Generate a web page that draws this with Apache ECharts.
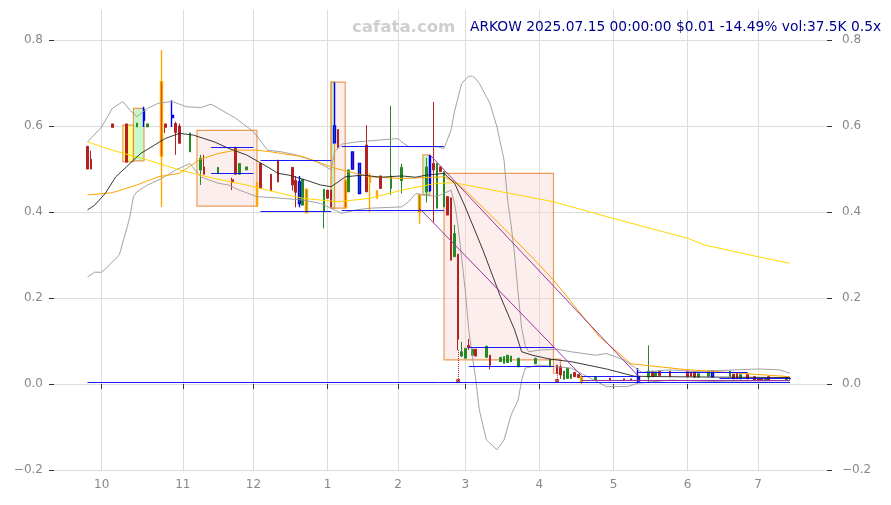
<!DOCTYPE html>
<html><head><meta charset="utf-8">
<script src="https://cdn.jsdelivr.net/npm/echarts@6/dist/echarts.min.js"></script>
<style>html,body{margin:0;padding:0;background:#fff}#c{width:891px;height:505px}</style>
</head><body><div id="c"></div>
<script>
// ---------- calendar (trading days) ----------
const firstDay = '2024-09-12', lastDay = '2025-07-29';
const holidays = ['2024-11-28','2024-12-25','2025-01-01','2025-01-09','2025-01-20','2025-02-17','2025-04-18','2025-05-26','2025-06-19','2025-07-04'];
const yTicks = [-0.2, 0, 0.2, 0.4, 0.6, 0.8];
const titleText = 'ARKOW 2025.07.15 00:00:00 $0.01 -14.49% vol:37.5K 0.5x';
const watermark = 'cafata.com';

// ---------- candles: [date, open, close, low, high] ----------
const candles = [
['2024-09-25',.553,.500,.500,.553],['2024-09-26',.523,.500,.500,.543],
['2024-10-04',.605,.597,.597,.605],['2024-10-10',.605,.516,.516,.605],
['2024-10-15',.598,.607,.598,.607],['2024-10-17',.637,.614,.598,.645],
['2024-10-18',.598,.605,.598,.605],['2024-10-24',.703,.530,.412,.777],
['2024-10-25',.605,.597,.584,.605],['2024-10-29',.625,.620,.598,.660],
['2024-10-30',.606,.585,.533,.610],['2024-10-31',.600,.560,.560,.606],
['2024-11-05',.540,.584,.540,.584],['2024-11-08',.498,.525,.463,.533],
['2024-11-11',.505,.488,.488,.533],['2024-11-15',.490,.504,.490,.504],
['2024-11-21',.475,.470,.451,.480],['2024-11-22',.550,.488,.488,.552],
['2024-11-25',.488,.513,.488,.513],['2024-11-27',.498,.505,.498,.505],
['2024-12-03',.468,.414,.412,.470],['2024-12-04',.513,.455,.455,.515],
['2024-12-09',.488,.450,.450,.488],['2024-12-11',.521,.470,.470,.521],
['2024-12-17',.504,.463,.450,.504],['2024-12-18',.474,.446,.411,.484],
['2024-12-19',.420,.470,.411,.484],['2024-12-20',.416,.476,.416,.476],
['2024-12-23',.398,.453,.398,.453],['2024-12-31',.401,.453,.362,.453],
['2025-01-02',.451,.432,.432,.451],['2025-01-03',.451,.412,.412,.451],
['2025-01-06',.561,.600,.561,.702],['2025-01-07',.592,.550,.550,.592],
['2025-01-10',.474,.410,.410,.474],['2025-01-13',.447,.498,.447,.498],
['2025-01-14',.540,.500,.500,.540],['2025-01-16',.443,.513,.443,.513],
['2025-01-21',.556,.447,.447,.602],['2025-01-22',.470,.480,.401,.491],
['2025-01-24',.433,.449,.433,.449],['2025-01-27',.484,.455,.455,.484],
['2025-01-30',.455,.484,.440,.647],['2025-02-04',.473,.504,.443,.512],
['2025-02-11',.400,.440,.373,.443],['2025-02-13',.447,.505,.422,.526],
['2025-02-14',.450,.530,.447,.533],['2025-02-18',.513,.498,.377,.656],
['2025-02-19',.409,.513,.409,.513],['2025-02-20',.505,.494,.494,.505],
['2025-02-21',.412,.494,.412,.494],['2025-02-24',.436,.393,.393,.436],
['2025-02-25',.433,.288,.288,.433],['2025-02-26',.296,.350,.296,.370],
['2025-02-27',.302,.104,.079,.302],['2025-02-28',.065,.075,.063,.098],
['2025-03-03',.060,.083,.060,.083],['2025-03-04',.090,.085,.079,.105],
['2025-03-05',.067,.081,.067,.081],['2025-03-06',.081,.065,.065,.081],
['2025-03-11',.062,.088,.062,.088],['2025-03-12',.067,.044,.034,.067],
['2025-03-17',.052,.062,.052,.062],['2025-03-18',.048,.064,.048,.064],
['2025-03-19',.050,.067,.050,.067],['2025-03-20',.052,.065,.052,.065],
['2025-03-24',.040,.060,.040,.060],['2025-03-31',.047,.060,.047,.060],
['2025-04-04',.040,.058,.040,.058],['2025-04-08',.044,.025,.025,.044],
['2025-04-09',.040,.021,.012,.044],['2025-04-10',.011,.030,.011,.030],
['2025-04-11',.013,.037,.013,.037],['2025-04-14',.013,.023,.013,.023],
['2025-04-15',.027,.017,.017,.027],['2025-04-16',.022,.015,.015,.022],
['2025-04-17',.005,.017,.000,.017],['2025-04-24',.010,.017,.010,.017],
['2025-04-30',.014,.007,.007,.014],['2025-05-06',.012,.008,.008,.012],
['2025-05-08',.012,.008,.008,.012],['2025-05-12',.007,.017,.002,.037],
['2025-05-15',.016,.030,.005,.090],['2025-05-16',.030,.017,.017,.030],
['2025-05-19',.018,.028,.018,.028],['2025-05-20',.030,.020,.020,.030],
['2025-05-23',.030,.017,.017,.030],['2025-06-02',.030,.017,.017,.030],
['2025-06-03',.028,.018,.018,.028],['2025-06-04',.028,.016,.016,.028],
['2025-06-05',.016,.024,.016,.024],['2025-06-10',.018,.030,.018,.030],
['2025-06-11',.017,.030,.017,.030],['2025-06-18',.018,.030,.018,.030],
['2025-06-20',.023,.012,.012,.023],['2025-06-23',.026,.012,.012,.026],
['2025-06-24',.012,.022,.012,.022],['2025-06-26',.022,.012,.012,.022],
['2025-06-30',.017,.009,.009,.017],['2025-07-01',.012,.008,.008,.012],
['2025-07-02',.012,.008,.008,.012],['2025-07-03',.008,.012,.008,.012],
['2025-07-07',.017,.009,.009,.017],['2025-07-14',.010,.017,.010,.017],
['2025-07-15',.0137,.0117,.0100,.0140]
];
const blueDates = ['2024-10-17','2024-10-29','2024-12-19','2025-01-06','2025-01-14','2025-01-16','2025-02-14','2025-05-12','2025-06-11'];
const orangeDates = ['2024-10-24','2024-12-03','2024-12-23','2025-01-10','2025-01-22','2025-01-24','2025-02-11','2025-04-17'];

// ---------- indicator lines: [date, value] ----------
const ma20 = [['2024-09-25',.405],['2024-09-27',.416],['2024-10-02',.443],['2024-10-07',.482],['2024-10-10',.505],['2024-10-16',.536],['2024-10-22',.556],['2024-10-25',.571],['2024-10-31',.583],['2024-11-06',.579],['2024-11-14',.563],['2024-11-20',.548],['2024-11-27',.533],['2024-12-06',.505],['2024-12-11',.490],['2024-12-16',.486],['2024-12-23',.474],['2024-12-30',.463],['2025-01-03',.459],['2025-01-07',.470],['2025-01-10',.482],['2025-01-17',.486],['2025-01-27',.481],['2025-02-04',.484],['2025-02-10',.481],['2025-02-13',.486],['2025-02-21',.490],['2025-02-26',.467],['2025-03-03',.412],['2025-03-10',.312],['2025-03-17',.203],['2025-03-21',.126],['2025-03-25',.075],['2025-03-28',.067],['2025-04-04',.058],['2025-04-14',.052],['2025-04-29',.035],['2025-05-09',.018],['2025-05-23',.017],['2025-06-13',.016],['2025-07-15',.015]];
const ma50 = [['2024-09-25',.440],['2024-10-04',.445],['2024-10-15',.463],['2024-10-23',.482],['2024-10-31',.490],['2024-11-08',.523],['2024-11-15',.536],['2024-11-22',.544],['2024-12-03',.544],['2024-12-09',.540],['2024-12-12',.536],['2024-12-20',.529],['2025-01-06',.502],['2025-01-13',.494],['2025-01-22',.482],['2025-02-04',.478],['2025-02-21',.482],['2025-02-26',.470],['2025-03-03',.451],['2025-03-18',.362],['2025-04-01',.277],['2025-04-07',.242],['2025-04-25',.110],['2025-05-08',.047],['2025-05-30',.034],['2025-07-15',.017]];
const ma200 = [['2024-09-25',.563],['2024-10-04',.544],['2024-10-18',.521],['2024-10-31',.498],['2024-11-14',.478],['2024-11-27',.463],['2024-12-12',.443],['2024-12-20',.432],['2025-01-07',.424],['2025-01-22',.432],['2025-02-04',.451],['2025-02-19',.467],['2025-02-26',.468],['2025-04-07',.424],['2025-05-01',.385],['2025-06-02',.339],['2025-06-09',.323],['2025-07-01',.296],['2025-07-15',.281]];
const bbUpper = [['2024-09-25',.563],['2024-10-01',.598],['2024-10-04',.641],['2024-10-09',.657],['2024-10-11',.637],['2024-10-15',.622],['2024-10-18',.641],['2024-10-23',.653],['2024-10-29',.657],['2024-11-04',.645],['2024-11-08',.643],['2024-11-13',.651],['2024-11-18',.637],['2024-11-22',.618],['2024-12-02',.587],['2024-12-06',.544],['2024-12-12',.540],['2024-12-18',.533],['2024-12-27',.517],['2025-01-03',.498],['2025-01-06',.540],['2025-01-08',.558],['2025-01-15',.563],['2025-02-03',.571],['2025-02-04',.563],['2025-02-06',.552],['2025-02-19',.552],['2025-02-21',.548],['2025-02-25',.591],['2025-02-26',.635],['2025-02-28',.699],['2025-03-03',.708],['2025-03-04',.716],['2025-03-05',.716],['2025-03-06',.710],['2025-03-07',.699],['2025-03-12',.653],['2025-03-14',.598],['2025-03-18',.521],['2025-03-19',.428],['2025-03-20',.370],['2025-03-21',.300],['2025-03-24',.210],['2025-03-25',.130],['2025-03-26',.090],['2025-03-27',.075],['2025-04-01',.079],['2025-04-08',.081],['2025-04-14',.075],['2025-04-24',.067],['2025-04-29',.071],['2025-05-06',.056],['2025-05-12',.033],['2025-05-13',.027],['2025-05-23',.033],['2025-06-04',.029],['2025-07-01',.035],['2025-07-10',.033],['2025-07-15',.025]];
const bbLower = [['2024-09-25',.249],['2024-09-27',.260],['2024-10-01',.260],['2024-10-03',.275],['2024-10-04',.284],['2024-10-08',.300],['2024-10-09',.330],['2024-10-10',.358],['2024-10-11',.389],['2024-10-14',.436],['2024-10-15',.447],['2024-10-18',.463],['2024-10-24',.478],['2024-10-30',.498],['2024-11-05',.513],['2024-11-08',.482],['2024-11-15',.467],['2024-11-20',.463],['2024-11-25',.451],['2024-12-03',.436],['2024-12-12',.432],['2024-12-20',.428],['2024-12-30',.420],['2025-01-06',.405],['2025-01-08',.397],['2025-01-15',.405],['2025-01-22',.409],['2025-02-04',.412],['2025-02-06',.424],['2025-02-10',.443],['2025-02-12',.440],['2025-02-19',.436],['2025-02-25',.451],['2025-02-26',.420],['2025-02-27',.366],['2025-03-03',.219],['2025-03-04',.126],['2025-03-06',.009],['2025-03-07',-.060],['2025-03-11',-.130],['2025-03-14',-.153],['2025-03-18',-.130],['2025-03-20',-.072],['2025-03-24',-.037],['2025-03-25',.009],['2025-03-26',.037],['2025-04-01',.044],['2025-04-14',.037],['2025-04-29',-.006],['2025-05-07',-.006],['2025-05-12',.002],['2025-05-23',.009],['2025-06-17',.005],['2025-07-15',.004]];

// ---------- drawings ----------
// boxes: [fromDate, toDate, low, high, kind]
const boxes = [
['2024-10-09','2024-10-14',.517,.602,'yellow'],
['2024-10-14','2024-10-17',.519,.641,'green'],
['2024-11-07','2024-12-03',.414,.590,'pink'],
['2025-01-03','2025-01-10',.409,.702,'pink'],
['2025-01-03','2025-01-06',.409,.702,'green'],
['2025-02-12','2025-02-14',.440,.533,'green'],
['2025-02-21','2025-04-07',.056,.490,'pink'],
['2025-04-07','2025-04-09',.025,.058,'pink']
];
// horizontal levels: [fromDate, toDate, value]
const levels = [
['2024-09-25','2025-07-15',.004],
['2024-11-13','2024-12-02',.550],['2024-11-13','2024-12-02',.490],
['2024-12-04','2025-01-03',.521],['2024-12-04','2025-01-03',.402],
['2025-01-08','2025-02-21',.552],['2025-01-08','2025-02-21',.405],
['2025-03-04','2025-04-07',.085],['2025-03-04','2025-04-07',.042],
['2025-04-17','2025-05-12',.017],['2025-05-12','2025-06-26',.027],
['2025-06-13','2025-07-15',.013]
];
// trend lines: [fromDate, fromValue, toDate, toValue]
const trends = [
['2025-02-14',.533,'2025-05-12',.019],
['2025-02-11',.409,'2025-04-17',.019],
['2025-04-17',.009,'2025-07-15',.009]
];
// dotted low spikes: [date, from, to]
const spikes = [['2025-02-27',.079,.007],['2025-04-08',.025,.007]];

// ---------- build ----------
function buildDays(a, b, hol) {
  const out = [], d = new Date(a + 'T00:00:00Z'), e = new Date(b + 'T00:00:00Z');
  while (d <= e) {
    const wd = d.getUTCDay(), s = d.toISOString().slice(0, 10);
    if (wd !== 0 && wd !== 6 && hol.indexOf(s) < 0) out.push(s);
    d.setUTCDate(d.getUTCDate() + 1);
  }
  return out;
}
const cats = buildDays(firstDay, lastDay, holidays);
const monthStart = cats.map((c, i) => i > 0 && c.slice(5, 7) !== cats[i - 1].slice(5, 7));
const isTick = (i) => !!monthStart[i];

const RED = '#b22222', GREEN = '#228b22', BLUE = '#0000ff', ORANGE = '#ffa500';
const cMap = {};
candles.forEach(c => { cMap[c[0]] = c; });
const kData = cats.map(d => {
  const c = cMap[d];
  if (!c) return '-';
  const item = { value: [c[1], c[2], c[3], c[4]] };
  if (blueDates.indexOf(d) >= 0) item.itemStyle = { borderColor: BLUE, borderColor0: BLUE, borderWidth: 1.4 };
  if (orangeDates.indexOf(d) >= 0) item.itemStyle = { borderColor: ORANGE, borderColor0: ORANGE, borderWidth: 1.4 };
  return item;
});

const boxFill = { pink: 'rgba(250,205,205,0.35)', green: 'rgba(150,240,150,0.5)', yellow: 'rgba(255,255,110,0.75)' };
const yFmt = v => (v < 0 ? '\u2212' : '') + Math.abs(v).toFixed(1);
const yBase = {
  type: 'value', min: -0.2, max: 0.87, interval: 0.2,
  axisLine: { show: false },
  axisTick: { show: true, length: 5, lineStyle: { color: '#333' }, customValues: yTicks },
  axisLabel: { color: '#888', fontSize: 12, customValues: yTicks, formatter: yFmt, fontFamily: 'DejaVu Sans' }
};
const lineS = (data, color, w) => ({ type: 'line', data: data, symbol: 'none', silent: true, z: 4,
  lineStyle: { color: color, width: w }, itemStyle: { color: color } });

const option = {
  animation: false,
  backgroundColor: '#ffffff',
  textStyle: { fontFamily: 'DejaVu Sans' },
  title: [
    { text: watermark, left: 347, top: 14, textStyle: { color: '#cfcfcf', fontSize: 16.6, fontWeight: 'bold', fontFamily: 'DejaVu Sans' } },
    { text: titleText, left: 465, top: 15, textStyle: { color: '#00008b', fontSize: 13.8, fontWeight: 'normal', fontFamily: 'DejaVu Sans' } }
  ],
  grid: { left: 54, right: 64, top: 10, bottom: 35 },
  xAxis: {
    type: 'category', data: cats, boundaryGap: true,
    axisLine: { show: true, lineStyle: { color: '#dddddd', width: 1 } },
    axisTick: { show: true, alignWithLabel: true, interval: isTick, length: 5, lineStyle: { color: '#333' } },
    axisLabel: { interval: isTick, formatter: v => String(+v.slice(5, 7)), color: '#888', fontSize: 12, margin: 9, fontFamily: 'DejaVu Sans' },
    splitLine: { show: true, alignWithLabel: true, interval: isTick, lineStyle: { color: '#dddddd', width: 1 } }
  },
  yAxis: [
    Object.assign({}, yBase, { position: 'left', splitLine: { show: true, lineStyle: { color: '#dddddd', width: 1 } },
      axisLabel: Object.assign({}, yBase.axisLabel, { margin: 11 }) }),
    Object.assign({}, yBase, { position: 'right', splitLine: { show: false },
      axisLabel: Object.assign({}, yBase.axisLabel, { margin: 15 }) })
  ],
  series: [
    { type: 'line', data: [], z: 1, silent: true,
      markArea: { silent: true, data: boxes.map(b => [
        { xAxis: b[0], yAxis: b[3], itemStyle: { color: boxFill[b[4]], borderColor: 'rgba(230,140,60,0.85)', borderWidth: 1.2 } },
        { xAxis: b[1], yAxis: b[2] }]) } },
    { type: 'line', data: [], z: 2, silent: true,
      markLine: { silent: true, symbol: ['none', 'none'], label: { show: false },
        lineStyle: { color: RED, width: 1, type: 'dotted' },
        data: spikes.map(s => [{ coord: [s[0], s[1]] }, { coord: [s[0], s[2]] }]) } },
    { type: 'scatter', z: 2, silent: true, symbol: 'rect', symbolSize: 4, itemStyle: { color: RED },
      data: spikes.map(s => [s[0], s[2]]) },
    { type: 'candlestick', data: kData, z: 3, barWidth: 2.2,
      itemStyle: { color: GREEN, color0: RED, borderColor: GREEN, borderColor0: RED, borderWidth: 1 } },
    lineS(bbUpper, '#999999', 0.9),
    lineS(bbLower, '#999999', 0.9),
    lineS(ma200, '#ffd700', 1),
    lineS(ma50, '#ffa500', 1),
    lineS(ma20, '#222222', 0.9),
    { type: 'line', data: [], z: 5, silent: true,
      markLine: { silent: true, symbol: ['none', 'none'], label: { show: false },
        lineStyle: { color: BLUE, width: 0.9, type: 'solid' },
        data: levels.map(h => [{ coord: [h[0], h[2]] }, { coord: [h[1], h[2]] }]) } },
    { type: 'line', data: [], z: 5, silent: true,
      markLine: { silent: true, symbol: ['none', 'none'], label: { show: false },
        lineStyle: { color: '#993399', width: 1, type: 'solid' },
        data: trends.map(t => [{ coord: [t[0], t[1]] }, { coord: [t[2], t[3]] }]) } }
  ]
};
const chart = echarts.init(document.getElementById('c'), null, { renderer: 'canvas' });
chart.setOption(option);
</script></body></html>
